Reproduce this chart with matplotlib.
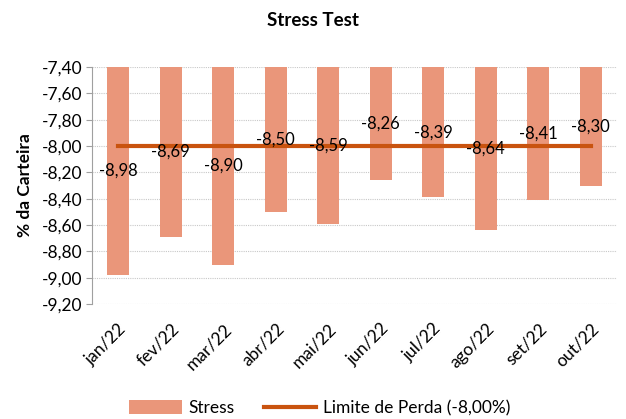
import matplotlib.pyplot as plt
from matplotlib.patches import Patch
from matplotlib.lines import Line2D

plt.rcParams['font.family'] = ['Lato', 'DejaVu Sans']

# Data
meses = ['jan/22', 'fev/22', 'mar/22', 'abr/22', 'mai/22',
         'jun/22', 'jul/22', 'ago/22', 'set/22', 'out/22']
stress = [-8.98, -8.69, -8.90, -8.50, -8.59, -8.26, -8.39, -8.64, -8.41, -8.30]
limite = [-8.00] * len(meses)
yticks = [-9.2, -9.0, -8.8, -8.6, -8.4, -8.2, -8.0, -7.8, -7.6, -7.4]

base = -7.40
bar_color = '#EA967A'
line_color = '#C9530F'

fig = plt.figure(figsize=(6.26, 4.19), dpi=100)
ax = fig.add_axes([92 / 626, 1 - 304 / 419, 525 / 626, 237 / 419])

x = list(range(len(meses)))
ax.bar(x, [v - base for v in stress], bottom=base, width=0.42,
       color=bar_color, zorder=2)
ax.plot(x, limite, color=line_color, linewidth=3, zorder=3)

# value labels at the middle of each bar
for xi, v in zip(x, stress):
    ax.text(xi, (v + base) / 2, f'{v:.2f}'.replace('.', ','),
            ha='center', va='center', fontsize=12, color='black', zorder=4)

ax.set_xlim(-0.5, len(meses) - 0.5)
ax.set_ylim(-9.2, -7.4)
ax.set_yticks(yticks)
ax.set_yticklabels([f'{t:.2f}'.replace('.', ',') for t in yticks], fontsize=12.5)
ax.set_xticks(x)
ax.set_xticklabels(meses, rotation=45, ha='right', rotation_mode='anchor', fontsize=12.5)
ax.tick_params(axis='x', length=0, pad=12)
ax.tick_params(axis='y', length=4, color='#A0A0A0', pad=3)

ax.grid(axis='y', linestyle=(0, (1, 1)), color='#C8C8C8', linewidth=0.8, zorder=0)
for s in ['top', 'right', 'bottom']:
    ax.spines[s].set_visible(False)
ax.spines['left'].set_color('#A0A0A0')

ax.set_ylabel('% da Carteira', fontsize=12.5, fontweight='bold', labelpad=6)
fig.text(0.5, 1 - 20 / 419, 'Stress Test', ha='center', va='center',
         fontsize=13.5, fontweight='bold')

handles = [Patch(facecolor=bar_color), Line2D([], [], color=line_color, linewidth=3)]
fig.legend(handles, ['Stress', 'Limite de Perda (-8,00%)'],
           loc='center', bbox_to_anchor=(320 / 626, 1 - 408 / 419), ncol=2, frameon=False,
           fontsize=12.5, handlelength=3.0, handleheight=0.9, columnspacing=1.7,
           handletextpad=0.4)

fig.savefig('out.png', dpi=100)
